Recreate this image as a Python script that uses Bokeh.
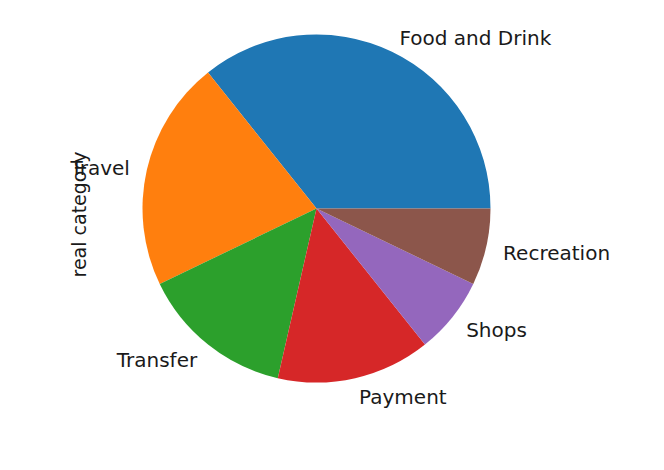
import math
from bokeh.plotting import figure
from bokeh.models import ColumnDataSource, Range1d, Label
from bokeh.embed import file_html
from bokeh.resources import INLINE

categories = ["Food and Drink", "Travel", "Transfer", "Payment", "Shops", "Recreation"]
counts = [5, 3, 2, 2, 1, 1]
colors = ["#1f77b4", "#ff7f0e", "#2ca02c", "#d62728", "#9467bd", "#8c564b"]
ylabel = "real category"

# geometry (canvas pixels)
CX, CY, R = 316, 208, 174
W, H = 648, 454

total = sum(counts)
starts, ends, lx, ly, aligns = [], [], [], [], []
acc = 0.0
for c in counts:
    a0 = 2 * math.pi * acc / total
    acc += c
    a1 = 2 * math.pi * acc / total
    starts.append(a0)
    ends.append(a1)
    mid = (a0 + a1) / 2
    x = 1.1 * math.cos(mid)
    y = 1.1 * math.sin(mid) - 2.0 / R
    lx.append(x)
    ly.append(y)
    aligns.append("left" if x > 0 else "right")

src = ColumnDataSource(dict(start=starts, end=ends, color=colors,
                            lx=lx, ly=ly, label=categories, align=aligns))

p = figure(width=W, height=H, output_backend="svg", toolbar_location=None,
           x_range=Range1d((0 - CX) / R, (W - CX) / R),
           y_range=Range1d((CY - H) / R, CY / R),
           min_border=0, match_aspect=False)
p.axis.visible = False
p.grid.visible = False
p.outline_line_color = None
p.background_fill_color = "white"
p.border_fill_color = "white"

p.wedge(x=0, y=0, radius=1, start_angle="start", end_angle="end",
        direction="anticlock", fill_color="color", line_color=None, source=src)

p.text(x="lx", y="ly", text="label", text_align="align", text_baseline="middle",
       text_font_size="20px", text_font={"value": "DejaVu Sans"},
       text_color="#1a1a1a", source=src)

p.add_layout(Label(x=(78 - CX) / R, y=(CY - 214) / R, text=ylabel, angle=math.pi / 2,
                   text_align="center", text_baseline="middle",
                   text_font_size="19px", text_font="DejaVu Sans", text_color="#1a1a1a"))

open("out.html", "w").write(file_html(p, INLINE))
